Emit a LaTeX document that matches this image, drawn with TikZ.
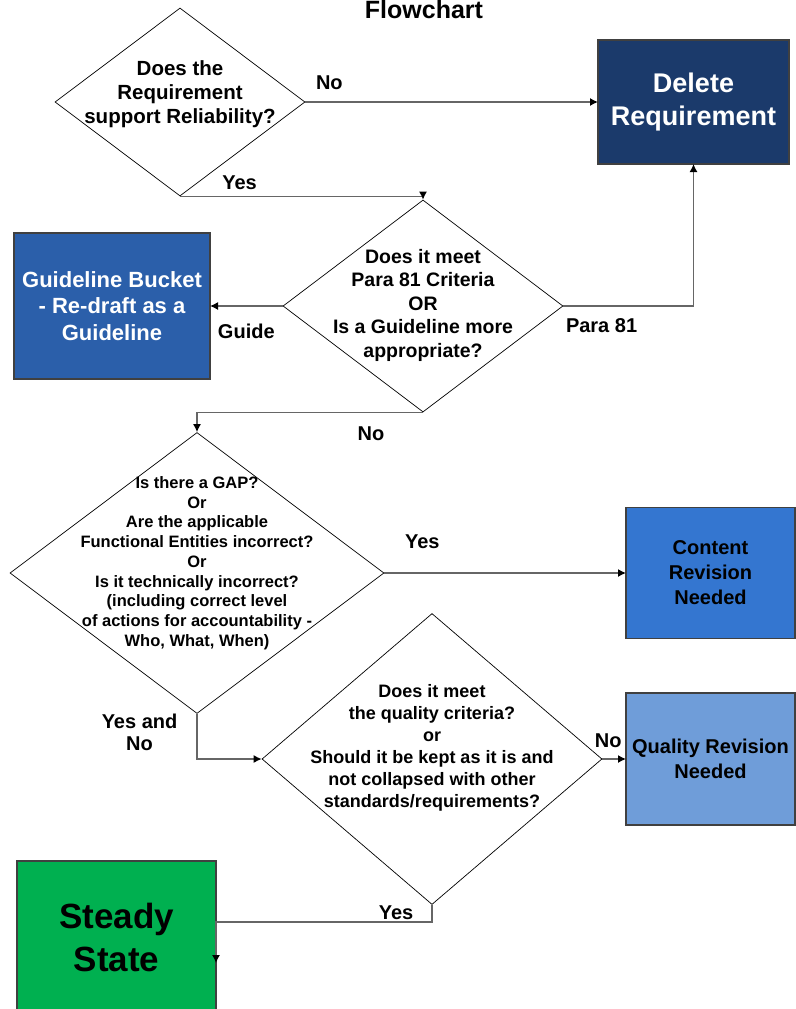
\documentclass[tikz,border=0pt]{standalone}
\usepackage{fontspec}
\setmainfont{Liberation Sans}
\usetikzlibrary{arrows.meta,positioning,shapes.geometric}
\definecolor{deletenavy}{HTML}{1B3A6B}
\definecolor{guideblue}{HTML}{2B5FAA}
\definecolor{contentblue}{HTML}{3476D0}
\definecolor{qualityblue}{HTML}{6F9DD9}
\definecolor{steadygreen}{HTML}{00B050}
\tikzset{
    decision/.style={diamond,draw,line width=0.7pt,inner sep=0pt},
    decisiontext/.style={align=center,inner sep=0pt},
    bucket/.style={rectangle,draw=black!75,line width=1.4pt,align=center,inner sep=0pt,outer sep=0pt},
    flowline/.style={-{Latex[length=8pt,width=8pt,color=black]},draw=black!60,line width=1.3pt},
    flowlabel/.style={font=\bfseries\fontsize{20}{22}\selectfont,inner sep=2pt,align=center}
}

\begin{document}
\begin{tikzpicture}[x=1pt,y=-1pt]
        \useasboundingbox (0,0) rectangle (795,1009);
        \node[inner sep=0pt,font=\bfseries\fontsize{25}{28}\selectfont] (title) at (424,10) {Flowchart};
        % decisions
        \node[decision,minimum width=250pt,minimum height=188pt] (d1) at (180,102) {};
        \node[decisiontext,font=\bfseries\fontsize{20.5}{24}\selectfont] (d1t) at (180,94) {Does the\\Requirement\\support Reliability?};
        \node[decision,minimum width=280pt,minimum height=212pt] (d2) at (423,306) {};
        \node[decisiontext,font=\bfseries\fontsize{19.5}{23.5}\selectfont] (d2t) at (423,305) {Does it meet\\Para 81 Criteria\\OR\\Is a Guideline more\\appropriate?};
        \node[decision,minimum width=374pt,minimum height=281pt] (d3) at (197,573) {};
        \node[decisiontext,font=\bfseries\fontsize{16.5}{19.75}\selectfont] (d3t) at (197,563) {Is there a GAP?\\Or\\Are the applicable\\Functional Entities incorrect?\\Or\\Is it technically incorrect?\\(including correct level\\of actions for accountability -\\Who, What, When)};
        \node[decision,minimum width=340pt,minimum height=291pt] (d4) at (432,759) {};
        \node[decisiontext,font=\bfseries\fontsize{18}{22}\selectfont] (d4t) at (432,748) {Does it meet\\the quality criteria?\\or\\Should it be kept as it is and\\not collapsed with other\\standards/requirements?};
        % outcomes
        \node[bucket,fill=deletenavy,text=white,minimum width=191pt,minimum height=124pt,font=\bfseries\fontsize{27}{33}\selectfont] (del) at (693.5,102) {Delete\\Requirement};
        \node[bucket,fill=guideblue,text=white,minimum width=196pt,minimum height=146pt,font=\bfseries\fontsize{22}{26.5}\selectfont] (guide) at (112,306) {Guideline Bucket\\- Re-draft as a\\Guideline};
        \node[bucket,fill=contentblue,minimum width=169pt,minimum height=131pt,font=\bfseries\fontsize{20}{25}\selectfont] (content) at (710.5,573) {Content\\Revision\\Needed};
        \node[bucket,fill=qualityblue,minimum width=169pt,minimum height=132pt,font=\bfseries\fontsize{20}{25}\selectfont] (quality) at (710.5,759) {Quality Revision\\Needed};
        \node[bucket,fill=steadygreen,minimum width=199pt,minimum height=152pt,font=\bfseries\fontsize{35}{43}\selectfont] (steady) at (116.5,937) {Steady\\State};
        \coordinate (ssend) at ([yshift=-26pt]steady.east);
        % connectors
        \draw[flowline] (d1.east) -- node[flowlabel,pos=0,above right,xshift=8pt,yshift=10pt] (lno1) {No} (del.west);
        \draw[flowline] (d1.south) -| node[flowlabel,pos=0.1225,above,yshift=4pt] (lyes1) {Yes} (d2.north);
        \draw[flowline] (d2.west) -- node[flowlabel,midway,below,yshift=-15pt] (lguide) {Guide} (d2.west -| guide.east);
        \draw[flowline] (d2.east) -| node[flowlabel,pos=0,below right,yshift=-10pt] (lpara) {Para 81} (del.south);
        \draw[flowline] (d2.south) -| node[flowlabel,pos=0.115,below,yshift=-12pt] (lno2) {No} (d3.north);
        \draw[flowline] (d3.east) -- node[flowlabel,pos=0.157,above,yshift=22pt] (lyes2) {Yes} (content.west);
        \draw[flowline] (d3.south) |- node[flowlabel,pos=0.21,left,xshift=-17pt] (lyesno) {Yes and\\No} (d4.west);
        \draw[flowline] (d4.east) -- node[flowlabel,pos=0.25,above,yshift=9pt] (lno3) {No} (quality.west);
        \draw[flowline] (d4.south) -- ++(0,17) node[flowlabel,above left,xshift=-16pt] (lyes3) {Yes} -| (ssend);
    \end{tikzpicture}
\end{document}
